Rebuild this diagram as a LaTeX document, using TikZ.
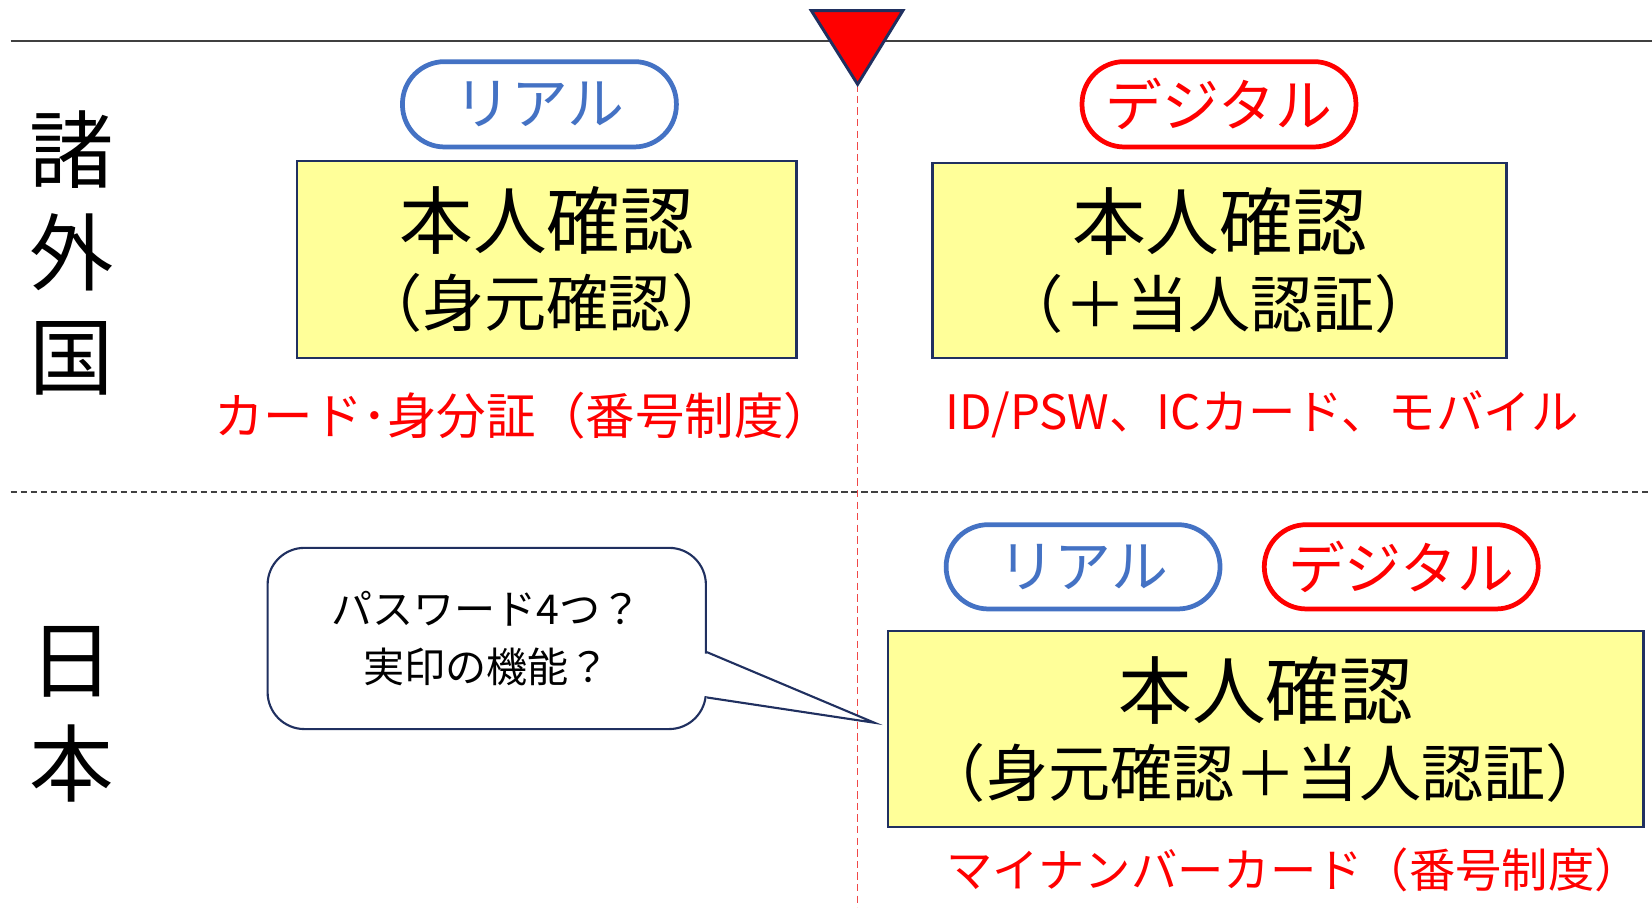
\documentclass[tikz,border=0pt]{standalone}
\usepackage{fontspec}
\setmainfont{Noto Sans CJK JP}
\usetikzlibrary{calc}
\definecolor{navy}{HTML}{203060}
\definecolor{pillblue}{HTML}{4472C4}
\definecolor{boxyellow}{HTML}{FFFF99}
\definecolor{dashred}{HTML}{F04848}
\definecolor{rulegray}{HTML}{404040}
\begin{document}
\begin{tikzpicture}[x=1pt,y=-1pt,
  pill/.style={draw, line width=4.5pt, rounded corners=40pt, minimum width=260pt,
    minimum height=81pt, inner sep=0pt, font=\fontsize{54}{60}\selectfont},
  realpill/.style={pill, draw=pillblue, text=pillblue},
  digipill/.style={pill, draw=red, text=red},
  idbox/.style={draw=navy, line width=2.2pt, fill=boxyellow, inner sep=0pt, align=center},
  redlabel/.style={text=red, inner sep=0pt, font=\fontsize{45}{50}\selectfont},
  sidelabel/.style={inner sep=0pt, align=center, font=\fontsize{80}{98}\selectfont},
  calloutbox/.style={draw=navy, line width=2pt, rounded corners=35pt, fill=white,
    minimum width=416pt, minimum height=172pt, inner sep=0pt, align=center,
    font=\fontsize{39}{55}\selectfont},
]
\useasboundingbox (0,0) rectangle (1568,861);
\fill[white] (0,0) rectangle (1568,861);

% rules
\coordinate (topL) at (10,39);
\coordinate (topR) at (1568,39);
\draw[rulegray, line width=1.5pt] (topL) -- (topR);
\coordinate (midL) at (10,467);
\coordinate (midR) at (1568,467);
\draw[rulegray, line width=1.2pt, dash pattern=on 6pt off 3.5pt] (midL) -- (midR);

% marker triangle and vertical line
\coordinate (triA) at (770,10);
\coordinate (triB) at (857,10);
\coordinate (tip0) at (814,80);
\coordinate (vbot) at (814,861);
\draw[dashred, line width=1.3pt, dash pattern=on 7pt off 4pt] (tip0) -- (vbot);
\draw[navy, line width=2.8pt, fill=red, line join=miter] (triA) -- (triB) -- (tip0) -- cycle;

% side labels
\node[sidelabel] (foreign) at (68,240) {諸\\外\\国};
\node[sidelabel] (japan) at (68,678) {日\\本};

% top row
\node[realpill] (real1) at (512,99) {リアル};
\node[digipill] (digi1) at (1157,99) {デジタル};

\node[idbox, minimum width=474pt, minimum height=187pt] (boxL) at (519,246.5)
  {{\fontsize{70}{77}\selectfont 本人確認}\\[17pt]{\fontsize{59}{70}\selectfont （身元確認）}};
\node[idbox, minimum width=545pt, minimum height=185pt] (boxR) at (1157.5,247.5)
  {{\fontsize{70}{77}\selectfont 本人確認}\\[17pt]{\fontsize{59}{70}\selectfont （＋当人認証）}};

\node[redlabel, font=\fontsize{47}{52}\selectfont] (labL) at (497,395) {カード･身分証（番号制度）};
\node[redlabel] (labR) at (1198,393) {ID/PSW、ICカード、モバイル};

% bottom row
\node[realpill, minimum height=80pt] (real2) at (1028,538) {リアル};
\node[digipill, minimum height=80pt] (digi2) at (1330,538) {デジタル};

\node[idbox, minimum width=717pt, minimum height=186pt] (boxJ) at (1201.5,692)
  {{\fontsize{70}{77}\selectfont 本人確認}\\[17pt]{\fontsize{59}{70}\selectfont （身元確認＋当人認証）}};

\node[redlabel, font=\fontsize{44}{50}\selectfont] (labJ) at (1228,826) {マイナンバーカード（番号制度）};

% callout
\node[calloutbox] (callout) at (462,606) {パスワード4つ？\\実印の機能？};
\coordinate (ctip) at (830,686);
\coordinate (cp1) at ($(callout.north east)+(0,100)$);
\coordinate (cp2) at ($(callout.north east)+(0,143)$);
\fill[white] ($(cp1)+(-4,1.5)$) -- ($(cp1)+(0,1.5)$) -- (ctip) -- ($(cp2)+(0,-1.5)$) -- ($(cp2)+(-4,-1.5)$) -- cycle;
\draw[navy, line width=2pt, line join=miter] (cp1) -- (ctip) -- (cp2);
\end{tikzpicture}
\end{document}
